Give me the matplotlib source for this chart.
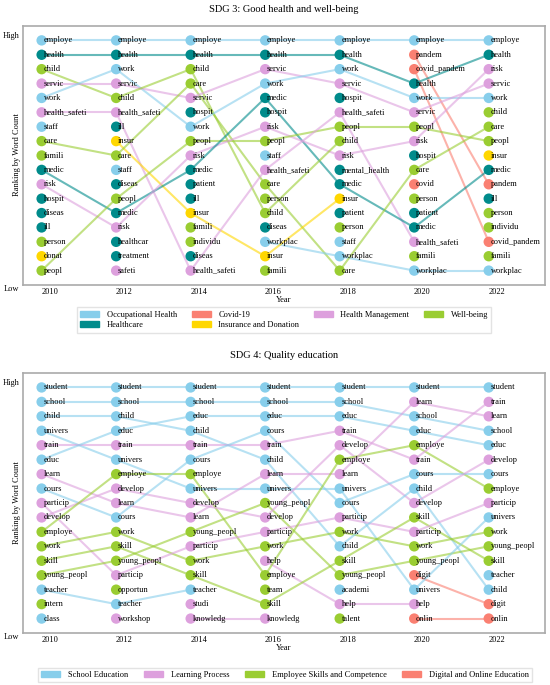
import matplotlib
matplotlib.use('Agg')
import matplotlib.pyplot as plt
from matplotlib.patches import Patch

plt.rcParams['font.family'] = ['Liberation Serif', 'DejaVu Serif']

years = [2010, 2012, 2014, 2016, 2018, 2020, 2022]

# SDG 3 - top words per year, ranked high -> low
sdg3_words = [
    ['employe', 'health', 'child', 'servic', 'work', 'health_safeti', 'staff', 'care', 'famili',
     'medic', 'risk', 'hospit', 'diseas', 'ill', 'person', 'donat', 'peopl'],
    ['employe', 'health', 'work', 'servic', 'child', 'health_safeti', 'ill', 'insur', 'care',
     'staff', 'diseas', 'peopl', 'medic', 'risk', 'healthcar', 'treatment', 'safeti'],
    ['employe', 'health', 'child', 'care', 'servic', 'hospit', 'work', 'peopl', 'risk',
     'medic', 'patient', 'ill', 'insur', 'famili', 'individu', 'diseas', 'health_safeti'],
    ['employe', 'health', 'servic', 'work', 'medic', 'hospit', 'risk', 'peopl', 'staff',
     'health_safeti', 'care', 'person', 'child', 'diseas', 'workplac', 'insur', 'famili'],
    ['employe', 'health', 'work', 'servic', 'hospit', 'health_safeti', 'peopl', 'child', 'risk',
     'mental_health', 'medic', 'insur', 'patient', 'person', 'staff', 'workplac', 'care'],
    ['employe', 'pandem', 'covid_pandem', 'health', 'work', 'servic', 'peopl', 'risk', 'hospit',
     'care', 'covid', 'person', 'patient', 'medic', 'health_safeti', 'famili', 'workplac'],
    ['employe', 'health', 'risk', 'servic', 'work', 'child', 'care', 'peopl', 'insur',
     'medic', 'pandem', 'ill', 'person', 'individu', 'covid_pandem', 'famili', 'workplac'],
]
sdg3_groups = {
    'Occupational Health': ['employe', 'work', 'staff', 'workplac'],
    'Healthcare': ['health', 'medic', 'hospit', 'diseas', 'ill', 'healthcar', 'treatment',
                   'patient', 'mental_health'],
    'Covid-19': ['pandem', 'covid_pandem', 'covid'],
    'Insurance and Donation': ['insur', 'donat'],
    'Health Management': ['servic', 'health_safeti', 'risk', 'safeti'],
    'Well-being': ['child', 'care', 'famili', 'person', 'peopl', 'individu'],
}
sdg3_colors = {
    'Occupational Health': '#87CEEB',
    'Healthcare': '#008B8B',
    'Covid-19': '#FA8072',
    'Insurance and Donation': '#FFD700',
    'Health Management': '#DDA0DD',
    'Well-being': '#9ACD32',
}
# only these words are linked between years
sdg3_tracked = ['employe', 'health', 'work', 'servic', 'child', 'health_safeti', 'care', 'medic',
                'risk', 'peopl', 'insur', 'workplac', 'pandem', 'covid_pandem']

# SDG 4
sdg4_words = [
    ['student', 'school', 'child', 'univers', 'train', 'educ', 'learn', 'cours', 'particip',
     'develop', 'employe', 'work', 'skill', 'young_peopl', 'teacher', 'intern', 'class'],
    ['student', 'school', 'child', 'educ', 'train', 'univers', 'employe', 'develop', 'learn',
     'cours', 'work', 'skill', 'young_peopl', 'particip', 'opportun', 'teacher', 'workshop'],
    ['student', 'school', 'educ', 'child', 'train', 'cours', 'employe', 'univers', 'develop',
     'learn', 'young_peopl', 'particip', 'work', 'skill', 'teacher', 'studi', 'knowledg'],
    ['student', 'school', 'educ', 'cours', 'train', 'child', 'learn', 'univers', 'young_peopl',
     'develop', 'particip', 'work', 'help', 'employe', 'team', 'skill', 'knowledg'],
    ['student', 'school', 'educ', 'train', 'develop', 'employe', 'learn', 'univers', 'cours',
     'particip', 'work', 'child', 'skill', 'young_peopl', 'academi', 'help', 'talent'],
    ['student', 'learn', 'school', 'educ', 'employe', 'train', 'cours', 'child', 'develop',
     'skill', 'particip', 'work', 'young_peopl', 'digit', 'univers', 'help', 'onlin'],
    ['student', 'train', 'learn', 'school', 'educ', 'develop', 'cours', 'employe', 'particip',
     'univers', 'work', 'young_peopl', 'skill', 'teacher', 'child', 'digit', 'onlin'],
]
sdg4_groups = {
    'School Education': ['student', 'school', 'child', 'univers', 'educ', 'cours', 'teacher',
                         'class', 'academi'],
    'Learning Process': ['train', 'learn', 'particip', 'develop', 'workshop', 'studi',
                         'knowledg', 'help'],
    'Employee Skills and Competence': ['employe', 'work', 'skill', 'young_peopl', 'intern',
                                       'opportun', 'team', 'talent'],
    'Digital and Online Education': ['digit', 'onlin'],
}
sdg4_colors = {
    'School Education': '#87CEEB',
    'Learning Process': '#DDA0DD',
    'Employee Skills and Competence': '#9ACD32',
    'Digital and Online Education': '#FA8072',
}

W, H = 550, 685
fig = plt.figure(figsize=(W / 100, H / 100), dpi=100)


def draw_panel(ax, words, groups, colors, tracked=None):
    col = {}
    for g, ws in groups.items():
        for w in ws:
            col[w] = colors[g]
    dx = 0.22
    # connecting lines
    for i in range(len(years) - 1):
        for r, w in enumerate(words[i]):
            if w in words[i + 1] and (tracked is None or w in tracked):
                r2 = words[i + 1].index(w)
                ax.plot([years[i] - dx, years[i + 1] - dx], [r + 1, r2 + 1],
                        color=col[w], lw=1.5, alpha=0.6, zorder=2, solid_capstyle='round')
    for i, y in enumerate(years):
        for r, w in enumerate(words[i]):
            ax.scatter(y - dx, r + 1, s=56, color=col[w], edgecolors='none', zorder=3)
            ax.text(y - dx + 0.05, r + 1, w, fontsize=6, va='center', ha='left', zorder=4)
    ax.set_xlim(2009.28, 2023.29)
    ax.set_ylim(18, 0)
    ax.set_xticks(years)
    ax.set_xticklabels([str(y) for y in years], fontsize=6)
    ax.set_yticks([])
    ax.tick_params(axis='x', length=0, pad=2)
    ax.set_xlabel('Year', fontsize=6, labelpad=0)
    for s in ax.spines.values():
        s.set_color('#aaaaaa')
        s.set_linewidth(1.2)


def fpx(x, y):
    return x / W, 1 - y / H


# panel 1
ax1 = fig.add_axes([23 / W, 1 - 285 / H, 522 / W, 259 / H])
draw_panel(ax1, sdg3_words, sdg3_groups, sdg3_colors, sdg3_tracked)
fig.text(*fpx(284, 9), 'SDG 3: Good health and well-being', fontsize=7.5, ha='center', va='center')
fig.text(*fpx(19.5, 36), 'High', fontsize=6, ha='right', va='center')
fig.text(*fpx(19.5, 289), 'Low', fontsize=6, ha='right', va='center')
fig.text(*fpx(17, 155), 'Ranking by Word Count', fontsize=6, rotation=90, ha='center', va='center')
h1 = [Patch(color=sdg3_colors[g], label=g) for g in sdg3_groups]
fig.legend(handles=h1, ncol=4, loc='center', bbox_to_anchor=fpx(284, 320), fontsize=6,
           frameon=True, fancybox=False, edgecolor='#dddddd', handlelength=2.3,
           handletextpad=0.9, columnspacing=1.75, borderpad=0.4, labelspacing=0.3)

# panel 2
ax2 = fig.add_axes([23 / W, 1 - 633 / H, 522 / W, 260 / H])
draw_panel(ax2, sdg4_words, sdg4_groups, sdg4_colors)
fig.text(*fpx(284, 355), 'SDG 4: Quality education', fontsize=7.5, ha='center', va='center')
fig.text(*fpx(19.5, 383), 'High', fontsize=6, ha='right', va='center')
fig.text(*fpx(19.5, 637), 'Low', fontsize=6, ha='right', va='center')
fig.text(*fpx(17, 503), 'Ranking by Word Count', fontsize=6, rotation=90, ha='center', va='center')
h2 = [Patch(color=sdg4_colors[g], label=g) for g in sdg4_groups]
fig.legend(handles=h2, ncol=4, loc='center', bbox_to_anchor=fpx(285, 675), fontsize=6,
           frameon=True, fancybox=False, edgecolor='#dddddd', handlelength=2.3,
           handletextpad=0.9, columnspacing=1.9, borderpad=0.4)

fig.savefig('out.png', dpi=100)
